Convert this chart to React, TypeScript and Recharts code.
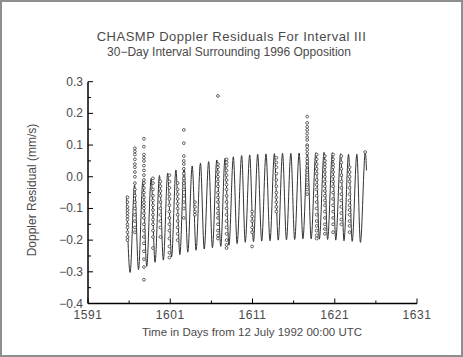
import { ComposedChart, Line, Scatter, XAxis, YAxis } from "recharts";

// daily fit curve: peaks and troughs [day, mm/s]
const curveStart: [number, number] = [1595.68, -0.06];
const curveEnd: [number, number] = [1624.86, 0.02];

const curvePeaks: [number, number][] = [
  [1596.66, -0.026], [1597.67, -0.015], [1598.68, -0.005], [1599.69, 0.004],
  [1600.69, 0.011], [1601.69, 0.021], [1602.68, 0.03], [1603.67, 0.034],
  [1604.67, 0.043], [1605.67, 0.048], [1606.66, 0.053], [1607.66, 0.058],
  [1608.67, 0.063], [1609.68, 0.067], [1610.66, 0.069], [1611.63, 0.071],
  [1612.64, 0.072], [1613.66, 0.073], [1614.65, 0.074], [1615.66, 0.074],
  [1616.67, 0.075], [1617.68, 0.075], [1618.7, 0.076], [1619.7, 0.077],
  [1620.71, 0.076], [1621.72, 0.073], [1622.68, 0.071], [1623.69, 0.071],
  [1624.72, 0.078],
];

const curveTroughs: [number, number][] = [
  [1596.12, -0.302], [1597.14, -0.293], [1598.14, -0.283], [1599.15, -0.27],
  [1600.16, -0.263], [1601.16, -0.253], [1602.17, -0.246], [1603.13, -0.238],
  [1604.14, -0.232], [1605.13, -0.228], [1606.13, -0.224], [1607.14, -0.22],
  [1608.14, -0.216], [1609.13, -0.211], [1610.12, -0.207], [1611.12, -0.205],
  [1612.12, -0.203], [1613.13, -0.202], [1614.13, -0.2], [1615.13, -0.199],
  [1616.13, -0.198], [1617.13, -0.196], [1618.13, -0.196], [1619.13, -0.197],
  [1620.13, -0.198], [1621.12, -0.2], [1622.12, -0.202], [1623.12, -0.204],
  [1624.12, -0.207],
];

// measured residuals, grouped by tracking pass [day, values]
const passes: [number, number[]][] = [
  [1595.8, [-0.065, -0.08, -0.095, -0.105, -0.115, -0.125, -0.135, -0.15, -0.16, -0.175, -0.19, -0.2]],
  [1596.7, [0.09, 0.08, 0.07, 0.055, 0.04, 0.03, 0.015, 0.0, -0.02, -0.04, -0.06, -0.08, -0.1, -0.12, -0.14, -0.16, -0.175]],
  [1597.8, [0.12, 0.095, 0.07, 0.06, 0.05, 0.035, 0.02, 0.005, -0.01, -0.02, -0.035, -0.05, -0.065, -0.08, -0.09, -0.1, -0.115, -0.13, -0.15, -0.17, -0.19, -0.21, -0.235, -0.26, -0.285, -0.325]],
  [1598.9, [-0.005, -0.02, -0.04, -0.06, -0.075, -0.09, -0.105, -0.12, -0.135, -0.15, -0.17, -0.19, -0.225]],
  [1599.8, [-0.015, -0.03, -0.045, -0.06, -0.08, -0.1, -0.12, -0.14, -0.16, -0.19]],
  [1600.9, [0.005, -0.015, -0.035, -0.055, -0.07, -0.09, -0.11, -0.13, -0.15, -0.17, -0.195, -0.22, -0.24, -0.255]],
  [1601.9, [-0.02, -0.04, -0.055, -0.07, -0.085, -0.1, -0.12, -0.14, -0.16, -0.18, -0.2]],
  [1602.65, [0.148, 0.106, 0.065, 0.05, 0.04, 0.025, 0.01, -0.005, -0.02, -0.04, -0.06, -0.08, -0.1, -0.13]],
  [1604.0, [-0.08, -0.095, -0.11, -0.12]],
  [1606.8, [0.255, 0.04, 0.03, 0.015, 0.0, -0.015, -0.03, -0.05, -0.065, -0.08, -0.1, -0.115, -0.13, -0.15, -0.17, -0.185, -0.195]],
  [1607.85, [0.055, 0.045, 0.035, 0.02, 0.005, -0.01, -0.025, -0.04, -0.06, -0.08, -0.1, -0.12, -0.14, -0.16, -0.18, -0.2, -0.215, -0.225]],
  [1610.95, [-0.11, -0.125, -0.14, -0.16, -0.175, -0.22]],
  [1613.9, [0.06, 0.045, 0.03, 0.01, -0.01, -0.03, -0.05, -0.065, -0.08, -0.095, -0.11]],
  [1617.65, [0.19, 0.17, 0.158, 0.148, 0.137, 0.125, 0.116, 0.1, 0.095, 0.085, 0.074, 0.058, 0.048, 0.035, 0.021, 0.006, -0.01, -0.026, -0.04, -0.055]],
  [1618.8, [0.07, 0.055, 0.04, 0.025, 0.01, -0.01, -0.025, -0.04, -0.06, -0.08, -0.1, -0.12, -0.14, -0.155, -0.17, -0.185, -0.195]],
  [1619.8, [0.065, 0.05, 0.04, 0.03, 0.015, 0.0, -0.015, -0.03, -0.045, -0.06, -0.075, -0.09, -0.11, -0.13, -0.15, -0.165, -0.18]],
  [1620.8, [0.07, 0.055, 0.04, 0.03, 0.015, 0.0, -0.015, -0.03, -0.05, -0.07, -0.09, -0.11, -0.13, -0.15, -0.175]],
  [1621.8, [0.065, 0.045, 0.025, 0.005, -0.015, -0.035, -0.055, -0.075, -0.095, -0.115, -0.135, -0.15]],
  [1622.8, [0.03, 0.015, 0.0, -0.015, -0.035, -0.055, -0.075, -0.09, -0.105, -0.12, -0.14, -0.155, -0.175]],
  [1624.7, [0.078]],
];

const xTicks = [1591, 1596, 1601, 1606, 1611, 1616, 1621, 1626, 1631];
const xLabelled = [1591, 1601, 1611, 1621, 1631];
const yTicks = [-0.4, -0.35, -0.3, -0.25, -0.2, -0.15, -0.1, -0.05, 0, 0.05, 0.1, 0.15, 0.2, 0.25, 0.3];
const yLabelled = [-0.4, -0.3, -0.2, -0.1, 0, 0.1, 0.2, 0.3];

const W = 463;
const H = 357;
const LEFT = 88;
const RIGHT = 417;
const TOP = 81.7;
const BOTTOM = 303.5;
const FONT = "'Liberation Sans', Arial, sans-serif";
const TEXT = "#4a4a4a";

const curve = [curveStart, ...curvePeaks, ...curveTroughs, curveEnd]
  .map(([day, value]) => ({ day, value }))
  .sort((a, b) => a.day - b.day);

const points = passes.flatMap(([day, vals]) => vals.map((value) => ({ day, value })));

const fmtY = (v: number) => {
  const s = (Math.abs(v) < 1e-9 ? 0 : v).toFixed(1);
  return s.replace("-", "\u2212");
};

const YTick = (props: any) => {
  const { y, payload } = props;
  const major = yLabelled.some((t) => Math.abs(t - payload.value) < 1e-6);
  return (
    <g>
      <line x1={LEFT} x2={LEFT + (major ? 5 : 3)} y1={y} y2={y} stroke="#000" strokeWidth={1} />
      {major && (
        <text x={LEFT - 5} y={y + 4} textAnchor="end" fontFamily={FONT} fontSize={12} fill={TEXT}>
          {fmtY(payload.value)}
        </text>
      )}
    </g>
  );
};

const XTick = (props: any) => {
  const { x, payload } = props;
  const major = xLabelled.includes(payload.value);
  return (
    <g>
      <line x1={x} x2={x} y1={BOTTOM} y2={BOTTOM - (major ? 5 : 3)} stroke="#000" strokeWidth={1} />
      {major && (
        <text x={x} y={BOTTOM + 15} textAnchor="middle" fontFamily={FONT} fontSize={12} fill={TEXT} letterSpacing={0.6}>
          {payload.value}
        </text>
      )}
    </g>
  );
};

const Dot = (props: any) => (
  <circle cx={props.cx} cy={props.cy} r={1.4} fill="#fff" stroke="#333" strokeWidth={0.75} />
);

export default function App() {
  return (
    <div style={{ position: "fixed", left: 0, top: 0, width: W, height: H, background: "#fff" }}>
      <ComposedChart
        width={W}
        height={H}
        margin={{ top: TOP, right: W - RIGHT, bottom: 0, left: 0 }}
      >
        <XAxis
          dataKey="day"
          type="number"
          domain={[1591, 1631]}
          ticks={xTicks}
          interval={0}
          height={H - BOTTOM}
          tickLine={false}
          tick={<XTick />}
          axisLine={{ stroke: "#000", strokeWidth: 1.5 }}
          allowDataOverflow
        />
        <YAxis
          type="number"
          domain={[-0.4, 0.3]}
          ticks={yTicks}
          interval={0}
          width={LEFT}
          tickLine={false}
          tick={<YTick />}
          axisLine={{ stroke: "#000", strokeWidth: 1.5 }}
          allowDataOverflow
        />
        <Line
          data={curve}
          dataKey="value"
          type="monotone"
          stroke="#333"
          strokeWidth={1}
          dot={false}
          isAnimationActive={false}
        />
        <Scatter data={points} dataKey="value" shape={<Dot />} isAnimationActive={false} />
      </ComposedChart>
      <svg
        width={W}
        height={H}
        style={{ position: "absolute", left: 0, top: 0, pointerEvents: "none" }}
      >
        <text x={231.5} y={40.5} textAnchor="middle" fontFamily={FONT} fontSize={13} fill={TEXT} letterSpacing={0.5}>
          CHASMP Doppler Residuals For Interval III
        </text>
        <text x={229} y={55.5} textAnchor="middle" fontFamily={FONT} fontSize={12} fill={TEXT}>
          30−Day Interval Surrounding 1996 Opposition
        </text>
        <text x={252} y={335.5} textAnchor="middle" fontFamily={FONT} fontSize={11.5} fill={TEXT}>
          Time in Days from 12 July 1992 00:00 UTC
        </text>
        <text
          x={0}
          y={0}
          transform="translate(36, 190) rotate(-90)"
          textAnchor="middle"
          fontFamily={FONT}
          fontSize={12}
          fill={TEXT}
        >
          Doppler Residual (mm/s)
        </text>
      </svg>
      <div
        style={{
          position: "absolute",
          left: 0,
          top: 0,
          width: W,
          height: H,
          boxSizing: "border-box",
          border: "2px solid #8e8e8e",
          pointerEvents: "none",
        }}
      />
    </div>
  );
}
